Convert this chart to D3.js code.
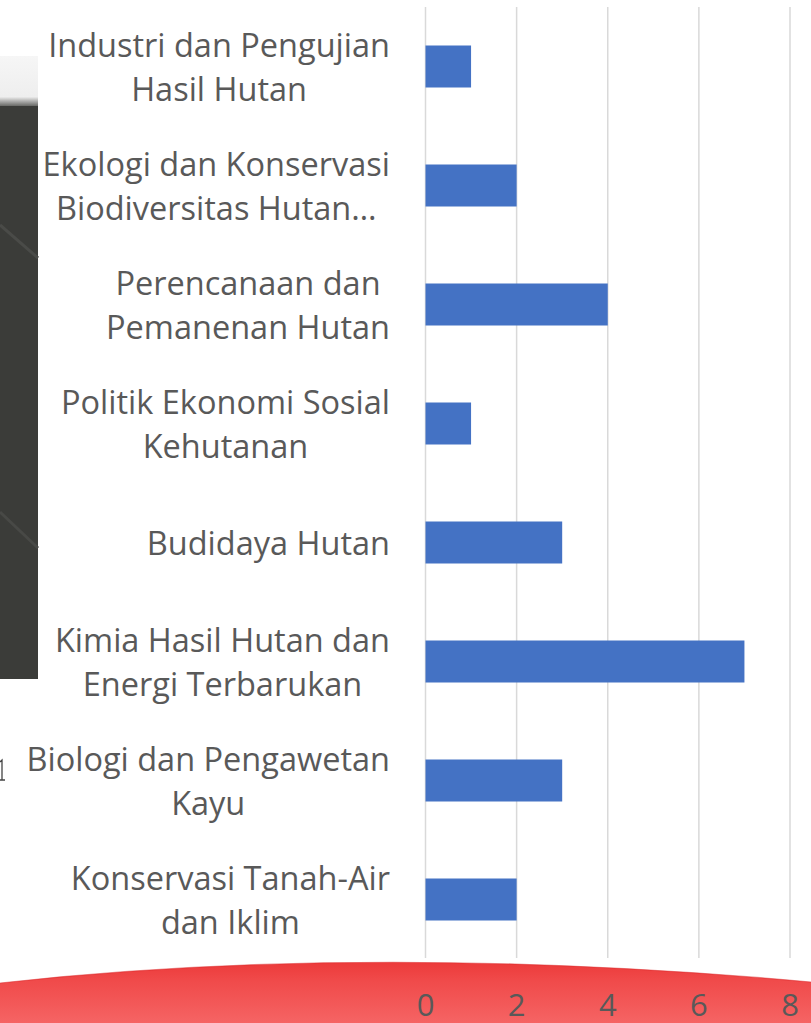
<!doctype html>
<html>
<head>
<meta charset="utf-8">
<style>
  body { margin: 0; background: #ffffff; }
  svg { display: block; }
  .cat text { font-family: "Open Sans", Lato, sans-serif; font-size: 32.5px; fill: #595959; }
  .tick-label { font-family: "Open Sans", Lato, sans-serif; font-size: 31px; fill: #595959; }
</style>
<script src="https://d3js.org/d3.v7.min.js"></script>
</head>
<body>
<div id="chart"></div>
<script>
// categories (top to bottom), each split into its wrapped label lines
var labelLines = [
  ["Industri dan Pengujian", "Hasil Hutan"],
  ["Ekologi dan Konservasi", "Biodiversitas Hutan\u2026"],
  ["Perencanaan dan ", "Pemanenan Hutan"],
  ["Politik Ekonomi Sosial", "Kehutanan"],
  ["Budidaya Hutan"],
  ["Kimia Hasil Hutan dan", "Energi Terbarukan"],
  ["Biologi dan Pengawetan", "Kayu"],
  ["Konservasi Tanah-Air", "dan Iklim"]
];
var categories = labelLines.map(function(l) { return l.join(" "); });
var values = [1, 2, 4, 1, 3, 7, 3, 2];
var tickValues = [0, 2, 4, 6, 8];

var W = 811, H = 1023;

var svg = d3.select("#chart").append("svg")
  .attr("width", W)
  .attr("height", H);

var defs = svg.append("defs");

// backdrop bits from the slide behind the chart
var strip = defs.append("linearGradient").attr("id", "strip")
  .attr("x1", 0).attr("y1", 0).attr("x2", 0).attr("y2", 1);
strip.append("stop").attr("offset", "0").attr("stop-color", "#f6f6f6");
strip.append("stop").attr("offset", "0.8").attr("stop-color", "#eeeeee");
strip.append("stop").attr("offset", "1").attr("stop-color", "#5a5b58");

var red = defs.append("linearGradient").attr("id", "red")
  .attr("x1", 0).attr("y1", 0).attr("x2", 0).attr("y2", 1);
red.append("stop").attr("offset", "0").attr("stop-color", "#ec3a3a");
red.append("stop").attr("offset", "0.3").attr("stop-color", "#f04a4a");
red.append("stop").attr("offset", "1").attr("stop-color", "#f56464");

svg.append("rect")
  .attr("x", 0).attr("y", 56).attr("width", 38).attr("height", 51)
  .attr("fill", "url(#strip)");
svg.append("rect")
  .attr("x", 0).attr("y", 106).attr("width", 38).attr("height", 573)
  .attr("fill", "#3b3c39");
svg.append("line")
  .attr("x1", 0).attr("y1", 225).attr("x2", 38).attr("y2", 258)
  .attr("stroke", "#4a4b48").attr("stroke-width", 3);
svg.append("line")
  .attr("x1", 0).attr("y1", 512).attr("x2", 38).attr("y2", 548)
  .attr("stroke", "#484946").attr("stroke-width", 3);
// sliver of a glyph from the slide at the left edge
svg.append("path")
  .attr("d", "M0,762 L2,760 L2,780 M-2,780 L5,780")
  .attr("fill", "none")
  .attr("stroke", "#444")
  .attr("stroke-width", 1.3);

// scales
var x = d3.scaleLinear()
  .domain([0, 8])
  .range([425.5, 790]);

var y = d3.scaleBand()
  .domain(categories)
  .range([7, 959])
  .padding(0);

var barH = 42;

// gridlines
svg.append("g")
  .selectAll("line")
  .data(tickValues)
  .enter()
  .append("line")
    .attr("x1", function(d) { return x(d); })
    .attr("x2", function(d) { return x(d); })
    .attr("y1", 7)
    .attr("y2", 958)
    .attr("stroke", "#d9d9d9")
    .attr("stroke-width", 1.5);

// bars
svg.append("g")
  .selectAll("rect")
  .data(values)
  .enter()
  .append("rect")
    .attr("x", x(0))
    .attr("y", function(d, i) { return y(categories[i]) + y.bandwidth() / 2 - barH / 2; })
    .attr("width", function(d) { return x(d) - x(0); })
    .attr("height", barH)
    .attr("fill", "#4472c4");

// category labels, lines centred inside a block right-aligned at x = 390
var lineH = 44;
var cats = svg.append("g").attr("class", "cat")
  .selectAll("g")
  .data(labelLines)
  .enter()
  .append("g");

cats.each(function(lines, i) {
  var g = d3.select(this);
  var cy = y(categories[i]) + y.bandwidth() / 2;
  var texts = g.selectAll("text")
    .data(lines)
    .enter()
    .append("text")
      .attr("text-anchor", "middle")
      .attr("dominant-baseline", "central")
      .attr("y", function(d, j) { return cy + (j - (lines.length - 1) / 2) * lineH; })
      .text(function(d) { return d; });
  var maxW = d3.max(texts.nodes(), function(n) { return n.getComputedTextLength(); });
  texts.attr("x", 390 - maxW / 2);
});

// red swoosh at the bottom
svg.append("path")
  .attr("d", "M0,983 Q370,942 811,982 L811,1023 L0,1023 Z")
  .attr("fill", "url(#red)");
svg.append("path")
  .attr("d", "M0,983 Q370,942 811,982")
  .attr("fill", "none")
  .attr("stroke", "#dc2a2c")
  .attr("stroke-width", 1.2)
  .attr("opacity", 0.5);

// x axis tick labels
svg.append("g")
  .selectAll("text")
  .data(tickValues)
  .enter()
  .append("text")
    .attr("class", "tick-label")
    .attr("x", function(d) { return x(d); })
    .attr("y", 1016)
    .attr("text-anchor", "middle")
    .text(function(d) { return d; });
</script>
</body>
</html>
